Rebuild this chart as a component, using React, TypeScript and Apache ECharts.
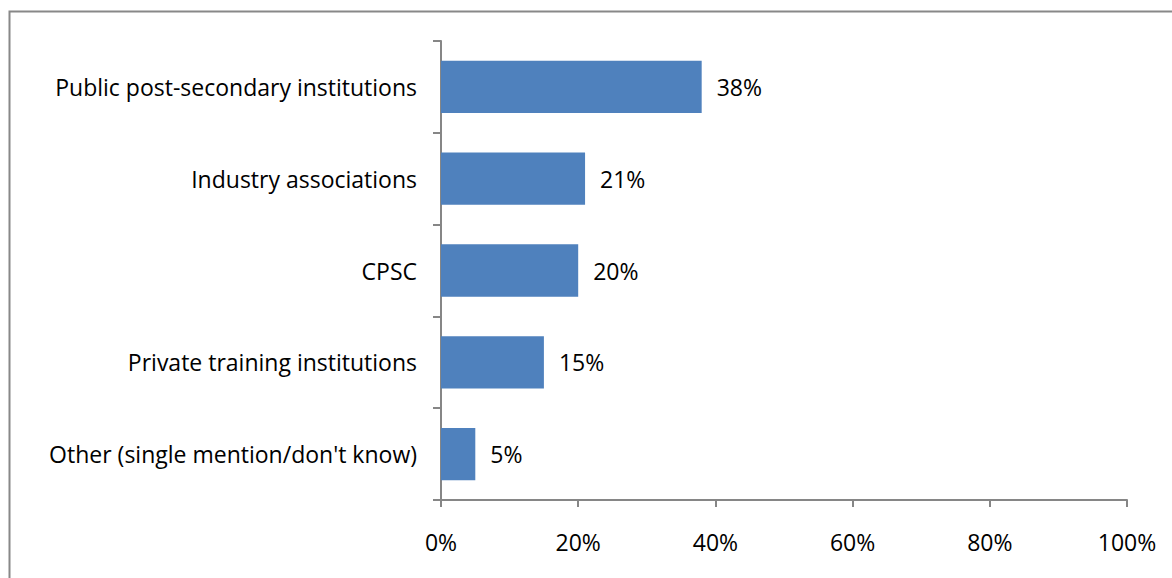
import React, { useEffect, useRef } from "react";
import * as echarts from "echarts";

const categories = [
  "Public post-secondary institutions",
  "Industry associations",
  "CPSC",
  "Private training institutions",
  "Other (single mention/don't know)",
];
const values = [38, 21, 20, 15, 5];
const xTicks = [0, 20, 40, 60, 80, 100];

export default function App() {
  const ref = useRef<HTMLDivElement>(null);
  useEffect(() => {
    document.body.style.margin = "0";
    const chart = echarts.init(ref.current!, null, { renderer: "svg" });
    const font = "'Open Sans', sans-serif";
    chart.setOption({
      animation: false,
      backgroundColor: "#ffffff",
      grid: { left: 441, right: 45, top: 41, bottom: 78, containLabel: false },
      graphic: [
        {
          type: "rect",
          shape: { x: 9.5, y: 11.5, width: 1300, height: 700 },
          style: { fill: "none", stroke: "#888888", lineWidth: 2 },
          silent: true,
        },
      ],
      xAxis: {
        type: "value",
        min: xTicks[0],
        max: xTicks[xTicks.length - 1],
        interval: 20,
        splitLine: { show: false },
        axisLine: { show: true, lineStyle: { color: "#868686", width: 2 } },
        axisTick: { show: true, length: 7, lineStyle: { color: "#868686", width: 2 } },
        axisLabel: {
          formatter: (v: number) => `${v}%`,
          color: "#000",
          fontSize: 23,
          fontFamily: font,
          margin: 30,
        },
      },
      yAxis: {
        type: "category",
        data: categories,
        inverse: true,
        axisLine: { show: true, lineStyle: { color: "#868686", width: 2 } },
        axisTick: { show: true, length: 8, lineStyle: { color: "#868686", width: 2 } },
        axisLabel: {
          color: "#000",
          fontSize: 23,
          fontFamily: font,
          margin: 24,
        },
      },
      series: [
        {
          type: "bar",
          data: values,
          barCategoryGap: "43%",
          itemStyle: { color: "#4F81BD" },
          label: {
            show: true,
            position: "right",
            distance: 15,
            formatter: (p: any) => `${p.value}%`,
            color: "#000",
            fontSize: 23,
            fontFamily: font,
          },
        },
      ],
    });
    return () => chart.dispose();
  }, []);
  return <div ref={ref} style={{ width: 1172, height: 578 }} />;
}
